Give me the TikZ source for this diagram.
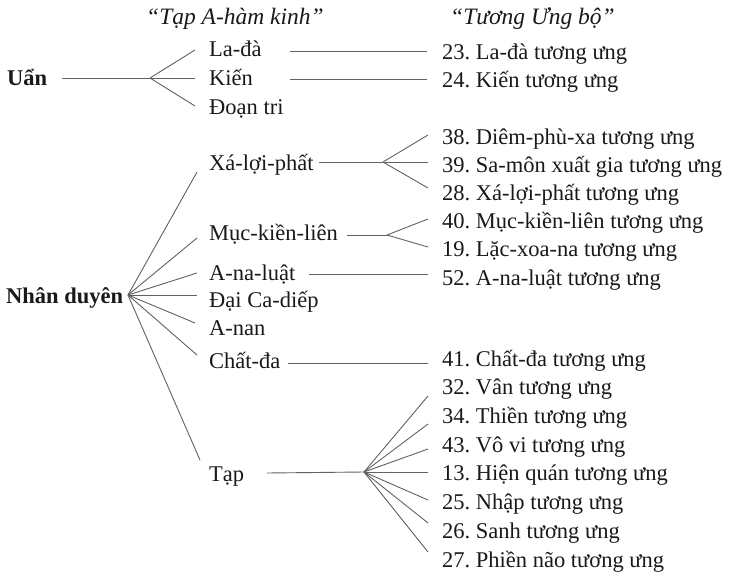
\documentclass[tikz,border=0pt]{standalone}
\usepackage{fontspec}
\setmainfont{Liberation Serif}
\newcommand\dfont{\fontsize{22.5}{26}\selectfont\frenchspacing}
\newcommand\tfont{\fontsize{23.5}{27}\selectfont\frenchspacing}
\begin{document}
\begin{tikzpicture}[x=1pt,y=-1pt,
  lbl/.style={anchor=base west, inner sep=0pt, font=\dfont, text=black!90},
  head/.style={lbl, font=\dfont\bfseries},
  ttl/.style={lbl, font=\tfont\itshape},
  conn/.style={draw=black!62, line width=0.9pt}]
\useasboundingbox (0,0) rectangle (729,578);
% titles
\node[ttl] (t1) at (146,25) {“Tạp A-hàm kinh”};
\node[ttl] (t2) at (450,25) {“Tương Ưng bộ”};
% roots
\node[head] (uan) at (7,85) {Uẩn};
\node[head] (nd) at (6,303) {Nhân duyên};
% middle column
\node[lbl] (lada) at (209,57) {La-đà};
\node[lbl] (kien) at (209,85) {Kiến};
\node[lbl] (doan) at (209,114) {Đoạn tri};
\node[lbl] (xlp) at (209,170) {Xá-lợi-phất};
\node[lbl] (mkl) at (209,240) {Mục-kiền-liên};
\node[lbl] (anl) at (209,280) {A-na-luật};
\node[lbl] (dcd) at (209,307.5) {Đại Ca-diếp};
\node[lbl] (anan) at (209,335) {A-nan};
\node[lbl] (cd) at (209,368) {Chất-đa};
\node[lbl] (tap) at (209,481) {Tạp};
% right column
\node[lbl] (r23) at (442,60) {23. La-đà tương ưng};
\node[lbl] (r24) at (442,88) {24. Kiến tương ưng};
\node[lbl] (r38) at (442,144.5) {38. Diêm-phù-xa tương ưng};
\node[lbl] (r39) at (442,172.5) {39. Sa-môn xuất gia tương ưng};
\node[lbl] (r28) at (442,200.5) {28. Xá-lợi-phất tương ưng};
\node[lbl] (r40) at (442,228.5) {40. Mục-kiền-liên tương ưng};
\node[lbl] (r19) at (442,256.7) {19. Lặc-xoa-na tương ưng};
\node[lbl] (r52) at (442,285) {52. A-na-luật tương ưng};
\node[lbl] (r41) at (442,366) {41. Chất-đa tương ưng};
\node[lbl] (r32) at (442,394.7) {32. Vân tương ưng};
\node[lbl] (r34) at (442,423.4) {34. Thiền tương ưng};
\node[lbl] (r43) at (442,452) {43. Vô vi tương ưng};
\node[lbl] (r13) at (442,480.9) {13. Hiện quán tương ưng};
\node[lbl] (r25) at (442,509.6) {25. Nhập tương ưng};
\node[lbl] (r26) at (442,538) {26. Sanh tương ưng};
\node[lbl] (r27) at (442,567) {27. Phiền não tương ưng};
% connector points
\coordinate (uanR) at (62,78);
\coordinate (fu) at (150,78);
\coordinate (ladaL) at (195,50);
\coordinate (kienL) at (195,78);
\coordinate (doanL) at (195,106);
\coordinate (ladaR) at (290,51);
\coordinate (r23L) at (427,51);
\coordinate (kienR) at (290,79);
\coordinate (r24L) at (427,79);
\coordinate (fn) at (128,295);
\coordinate (xlpL) at (197,172);
\coordinate (mklL) at (197,238);
\coordinate (anlL) at (197,273);
\coordinate (dcdL) at (197,295);
\coordinate (ananL) at (195,323);
\coordinate (cdL) at (197,355);
\coordinate (tapL) at (200,460);
\coordinate (xlpR) at (319,162);
\coordinate (fx) at (383,162);
\coordinate (r38L) at (428,135);
\coordinate (r39L) at (428,162);
\coordinate (r28L) at (428,188);
\coordinate (mklR) at (347,235);
\coordinate (fm) at (387,235);
\coordinate (r40L) at (428,219);
\coordinate (r19L) at (428,247);
\coordinate (anlR) at (309,274);
\coordinate (r52L) at (428,274);
\coordinate (cdR) at (288,363);
\coordinate (r41L) at (428,363);
\coordinate (tapR) at (267,473);
\coordinate (ft) at (364,472);
\coordinate (r32L) at (428,396);
\coordinate (r34L) at (428,424);
\coordinate (r43L) at (428,449);
\coordinate (r13L) at (428,472);
\coordinate (r25L) at (428,500);
\coordinate (r26L) at (428,523);
\coordinate (r27L) at (428,552);
% connectors
\draw[conn] (uanR) -- (fu);
\foreach \e in {ladaL,kienL,doanL} \draw[conn] (fu) -- (\e);
\draw[conn] (ladaR) -- (r23L);
\draw[conn] (kienR) -- (r24L);
\foreach \e in {xlpL,mklL,anlL,dcdL,ananL,cdL,tapL} \draw[conn] (fn) -- (\e);
\draw[conn] (xlpR) -- (fx);
\foreach \e in {r38L,r39L,r28L} \draw[conn] (fx) -- (\e);
\draw[conn] (mklR) -- (fm);
\foreach \e in {r40L,r19L} \draw[conn] (fm) -- (\e);
\draw[conn] (anlR) -- (r52L);
\draw[conn] (cdR) -- (r41L);
\draw[conn] (tapR) -- (ft);
\foreach \e in {r32L,r34L,r43L,r13L,r25L,r26L,r27L} \draw[conn] (ft) -- (\e);
\end{tikzpicture}
\end{document}
